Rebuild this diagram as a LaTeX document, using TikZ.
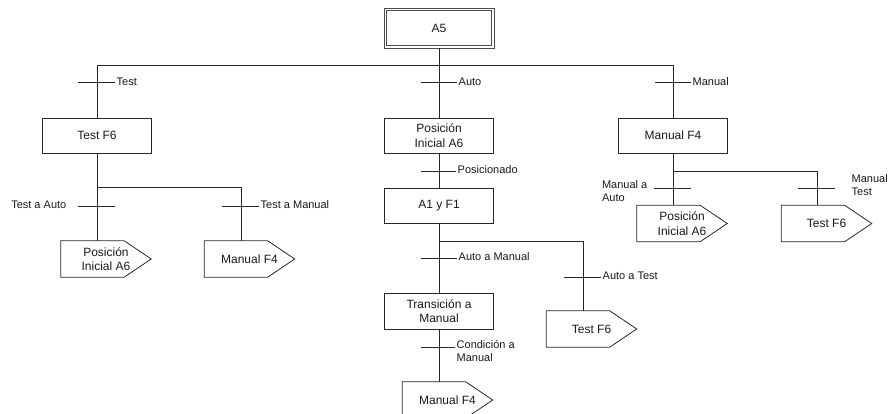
\documentclass[tikz,border=0pt]{standalone}
\usepackage{fontspec}
\setmainfont{Liberation Sans}
\begin{document}
\begin{tikzpicture}[x=1pt,y=-1pt,
  line/.style={draw=black!85,line width=0.8pt},
  stepbox/.style={line,rectangle,minimum width=109pt,minimum height=35pt,inner sep=1pt,align=center,font=\fontsize{12}{14.5}\selectfont,text=black!90},
  pentbox/.style={rectangle,minimum width=90pt,minimum height=36pt,inner sep=0pt,align=center,font=\fontsize{12}{14.5}\selectfont,text=black!90},
  lbl/.style={inner sep=1.5pt,align=left,font=\fontsize{11}{13}\selectfont,text=black!90},
]
\newcommand\drawpent[1]{\draw[line] (#1.north west) -- ([xshift=-27pt]#1.north east) -- (#1.east) -- ([xshift=-27pt]#1.south east) -- (#1.south west) -- cycle;}
\useasboundingbox (0,0) rectangle (893,414);

% steps
\node[stepbox,minimum width=110pt,minimum height=40pt,draw=black!70] (a5) at (439,28) {A5};
\draw[line,draw=black!70] ([shift={(2.6,2.6)}]a5.north west) rectangle ([shift={(-2.6,-2.6)}]a5.south east);
\node[stepbox] (testF6) at (97,135.5) {Test F6};
\node[stepbox] (posA6) at (439,135.5) {Posición\\Inicial A6};
\node[stepbox] (manF4) at (673,135.5) {Manual F4};
\node[stepbox] (a1f1) at (439,205.5) {A1 y F1};
\node[stepbox,minimum height=36pt] (trans) at (439,311) {Transición a\\Manual};

% jump pentagons
\node[pentbox] (pL1) at (106,259) {Posición\\Inicial A6};
\node[pentbox] (pL2) at (249.5,259) {Manual F4};
\node[pentbox] (pR1) at (682,223.5) {Posición\\Inicial A6};
\node[pentbox] (pR2) at (826.5,223.5) {Test F6};
\node[pentbox] (pM1) at (591.5,329) {Test F6};
\node[pentbox] (pM2) at (447.5,400) {Manual F4};
\drawpent{pL1}\drawpent{pL2}\drawpent{pR1}\drawpent{pR2}\drawpent{pM1}\drawpent{pM2}

% junction coordinates
\coordinate (busL) at (97,65);
\coordinate (busR) at (673,65);
\coordinate (jL) at (241,187);
\coordinate (jM) at (583,241);
\coordinate (jR) at (817,171);

% connectors
\draw[line] (a5.south) -- (posA6.north);
\draw[line] (busL) -- (busR);
\draw[line] (busL) -- (testF6.north);
\draw[line] (busR) -- (manF4.north);
\draw[line] (testF6.south) -- (testF6.south |- pL1.north);
\draw[line] (testF6.south |- jL) -- (jL) -- (jL |- pL2.north);
\draw[line] (posA6.south) -- (a1f1.north);
\draw[line] (a1f1.south) -- (trans.north);
\draw[line] (trans.south) -- (trans.south |- pM2.north);
\draw[line] (a1f1.south |- jM) -- (jM) -- (jM |- pM1.north);
\draw[line] (manF4.south) -- (manF4.south |- pR1.north);
\draw[line] (manF4.south |- jR) -- (jR) -- (jR |- pR2.north);

% transitions (ticks and labels)
\node[lbl,anchor=west] (tTest) at (115,82) {Test};
\coordinate (kTest) at (78,82);
\draw[line] (kTest) -- (kTest -| tTest.west);

\node[lbl,anchor=west] (tAuto) at (457,82) {Auto};
\coordinate (kAuto) at (421,82);
\draw[line] (kAuto) -- (kAuto -| tAuto.west);

\node[lbl,anchor=west] (tMan) at (691,82) {Manual};
\coordinate (kMan) at (655,82);
\draw[line] (kMan) -- (kMan -| tMan.west);

\node[lbl,anchor=east] (tTA) at (68,205) {Test a Auto};
\coordinate (kTA) at (78,206);
\draw[line] (kTA) -- ++(37,0);

\node[lbl,anchor=west] (tTM) at (259,205) {Test a Manual};
\coordinate (kTM) at (222,206);
\draw[line] (kTM) -- (kTM -| tTM.west);

\node[lbl,anchor=west] (tPos) at (456,170) {Posicionado};
\coordinate (kPos) at (421,171);
\draw[line] (kPos) -- (kPos -| tPos.west);

\node[lbl,anchor=east] (tMA) at (649,191) {Manual a\\Auto};
\coordinate (kMA) at (654,188);
\draw[line] (kMA) -- ++(37,0);

\node[lbl,anchor=west] (tMT) at (850,185) {Manual\\Test};
\coordinate (kMT) at (798,188);
\draw[line] (kMT) -- ++(37,0);

\node[lbl,anchor=west] (tAM) at (457,257) {Auto a Manual};
\coordinate (kAM) at (421,258);
\draw[line] (kAM) -- (kAM -| tAM.west);

\node[lbl,anchor=west] (tAT) at (601,276) {Auto a Test};
\coordinate (kAT) at (564,277);
\draw[line] (kAT) -- (kAT -| tAT.west);

\node[lbl,anchor=west] (tCM) at (455,351) {Condición a\\Manual};
\coordinate (kCM) at (421,347);
\draw[line] (kCM) -- (kCM -| tCM.west);
\end{tikzpicture}
\end{document}
